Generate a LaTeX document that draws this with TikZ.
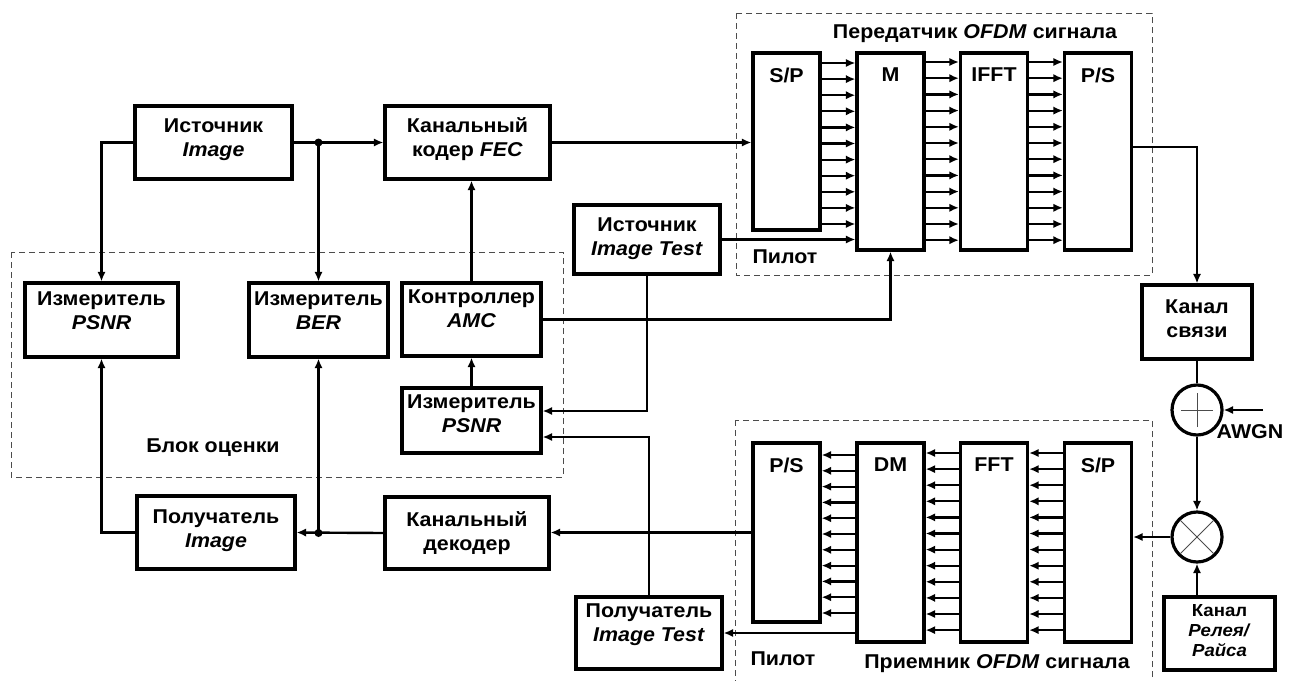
\documentclass[tikz,border=0pt]{standalone}
\usepackage{fontspec}
\setmainfont{Liberation Sans}[FakeStretch=1.07]
\usetikzlibrary{arrows.meta,positioning}
\newcommand{\lowpad}[1]{\rule[-#1]{0pt}{#1}}

\begin{document}
\begin{tikzpicture}[x=0.5pt, y=-0.5pt, >={Latex[length=4.8pt,width=4.2pt]},
    blok/.style={draw, line width=1.6pt, align=center, inner sep=0pt, font=\bfseries\fontsize{10}{12}\selectfont},
    ofdm/.style={draw, line width=1.6pt, inner sep=0pt, minimum width=33.5pt},
    ofdmlbl/.style={label={[inner sep=0pt, anchor=north, yshift=-8pt, font=\bfseries\fontsize{10}{12}\selectfont]north:#1}},
    frame/.style={line width=0.5pt, black!70, dash pattern=on 3pt off 2pt},
    txt/.style={font=\bfseries\fontsize{10}{12}\selectfont, inner sep=0pt, anchor=base},
    sig/.style={line width=1.2pt},
    bus/.style={line width=1.1pt, ->},
    summ/.style={draw, circle, line width=1.6pt, minimum size=25pt, inner sep=0pt},
    cross/.style={line width=0.5pt, black!70},
  ]
  \useasboundingbox (0,0) rectangle (1299,680);

  %% Frames
  \draw[frame] (11,252) rectangle (563,477);
  \draw[frame] (736,13) rectangle (1152,275);
  \draw[frame] (735,420) rectangle (1152,700);

  %% Blocks
  \node[blok, minimum width=78.5pt, minimum height=36.5pt] (src) at (213.5,142.5) {Источник\\\textit{Image}\lowpad{4.5pt}};
  \node[blok, minimum width=82.5pt, minimum height=36.5pt] (fec) at (467.5,142.5) {Канальный\\кодер \textit{FEC}\lowpad{5pt}};
  \node[blok, minimum width=76.5pt, minimum height=37pt] (psnra) at (101.5,320) {Измеритель\\\textit{PSNR}\lowpad{9.5pt}};
  \node[blok, minimum width=69.5pt, minimum height=37pt] (ber) at (318.5,320) {Измеритель\\\textit{BER}\lowpad{9.5pt}};
  \node[blok, minimum width=69.5pt, minimum height=36.5pt] (amc) at (471.5,319.5) {Контроллер\\\textit{AMC}\lowpad{10.5pt}};
  \node[blok, minimum width=69.5pt, minimum height=32.5pt] (psnrb) at (471.5,420.5) {Измеритель\\\textit{PSNR}\lowpad{7pt}};
  \node[blok, minimum width=73pt, minimum height=34.5pt] (srct) at (647,239.5) {Источник\\\textit{Image Test}\lowpad{3pt}};
  \node[blok, minimum width=73pt, minimum height=36pt] (rcvt) at (649,633) {Получатель\\\textit{Image Test}\lowpad{10.5pt}};
  \node[blok, minimum width=79pt, minimum height=36.5pt] (rcv) at (216,532.5) {Получатель\\\textit{Image}\lowpad{4pt}};
  \node[blok, minimum width=82pt, minimum height=36pt] (dec) at (467,533) {Канальный\\декодер};
  \node[blok, minimum width=55pt, minimum height=37pt] (chan) at (1197,322) {Канал\\связи\lowpad{3.5pt}};
  \node[blok, font=\bfseries\fontsize{8.7}{10}\selectfont, minimum width=55.5pt, minimum height=36.5pt] (ray) at (1219.5,633.5) {Канал\\\textit{Релея/}\\\textit{Райса}\lowpad{3pt}};

  %% OFDM transmitter
  \node[ofdm, minimum height=88.5pt, ofdmlbl=S/P] (tsp) at (786.5,141.5) {};
  \node[ofdm, minimum height=98.5pt, ofdmlbl=M] (tm) at (890.5,151.5) {};
  \node at (tm) [xshift=51.75pt, ofdm, minimum height=98.5pt, ofdmlbl=IFFT] (tifft) {};
  \node at (tifft) [xshift=52pt, ofdm, minimum height=98.5pt, ofdmlbl=P/S] (tps) {};

  %% OFDM receiver
  \node[ofdm, minimum height=89.5pt, ofdmlbl=P/S] (rps) at (786.5,532.5) {};
  \node[ofdm, minimum height=99.5pt, ofdmlbl=DM] (rdm) at (890.5,542.5) {};
  \node at (rdm) [xshift=51.75pt, ofdm, minimum height=99.5pt, ofdmlbl=FFT] (rfft) {};
  \node at (rfft) [xshift=52pt, ofdm, minimum height=99.5pt, ofdmlbl=S/P] (rsp) {};

  %% Channel
  \node[summ] (add) at (1197,410) {};
  \node[summ] (mul) at (1197,537) {};
  \draw[cross] ([xshift=-8pt]add.center) -- ([xshift=8pt]add.center);
  \draw[cross] ([yshift=-8.5pt]add.center) -- ([yshift=8.5pt]add.center);
  \draw[cross, shorten <=1.5pt, shorten >=1.5pt] (mul.45) -- (mul.225);
  \draw[cross, shorten <=1.5pt, shorten >=1.5pt] (mul.135) -- (mul.315);
  \coordinate (awgn) at (1263,410);

  %% Labels
  \node[txt] (txtitle) at (975,38) {Передатчик \textit{OFDM} сигнала};
  \node[txt] (rxtitle) at (997,668) {Приемник \textit{OFDM} сигнала};
  \node[txt] (txpilot) at (785,263) {Пилот};
  \node[txt] (rxpilot) at (783,665) {Пилот};
  \node[txt] (estlbl) at (213,452) {Блок оценки};
  \node[txt] (awgnlbl) at (1250,438) {AWGN};

  %% Arrows
  \draw[sig, ->] (src.east) -- (fec.west);
  \fill (src.east -| ber.north) circle (2pt);
  \draw[sig, ->] (src.east -| ber.north) -- (ber.north);
  \draw[sig, ->] (src.west) -| (psnra.north);
  \draw[sig, ->] (fec.east) -- (fec.east -| tsp.west);
  \draw[sig, ->] (amc.north) -- (amc.north |- fec.south);
  \draw[sig, ->] (psnrb.north) -- (amc.south);
  \draw[sig, ->] (amc.east) -| (tm.south);
  \draw[sig, ->] (srct.east) -- (srct.east -| tm.west);
  \draw[sig, ->] (srct.south) |- ([yshift=4.75pt]psnrb.east);
  \draw[sig, ->] (rcvt.north) |- ([yshift=-8.25pt]psnrb.east);
  \draw[sig, ->] ([yshift=2.25pt]tps.east) -| (chan.north);
  \draw[sig] (chan.south) -- (add.north);
  \draw[sig, ->] (awgn) -- (add.east);
  \draw[sig, ->] (add.south) -- (mul.north);
  \draw[sig, ->] (mul |- ray.north) -- (mul.south);
  \draw[sig, ->] (mul.west) -- (mul.west -| rsp.east);
  \draw[sig, ->] (rps.west) -- (rps.west -| dec.east);
  \draw[sig, ->] (dec.west) -- (rcv.east);
  \fill (dec.west -| ber.south) circle (2pt);
  \draw[sig, ->] (dec.west -| ber.south) -- (ber.south);
  \draw[sig, ->] (rcv.west) -| (psnra.south);
  \draw[sig, ->] (rdm.west |- rcvt.east) -- (rcvt.east);

  %% Parallel buses
  \foreach \i in {0,...,10}
    \draw[bus] (tsp.east |- 0,63+16.1*\i) -- (tm.west |- 0,63+16.1*\i);
  \foreach \i in {0,...,11} {
    \draw[bus] (tm.east |- 0,62+16.2*\i) -- (tifft.west |- 0,62+16.2*\i);
    \draw[bus] (tifft.east |- 0,62+16.2*\i) -- (tps.west |- 0,62+16.2*\i);
  }
  \foreach \i in {0,...,10}
    \draw[bus] (rdm.west |- 0,455+15.8*\i) -- (rps.east |- 0,455+15.8*\i);
  \foreach \i in {0,...,11} {
    \draw[bus] (rfft.west |- 0,453+16.1*\i) -- (rdm.east |- 0,453+16.1*\i);
    \draw[bus] (rsp.west |- 0,453+16.1*\i) -- (rfft.east |- 0,453+16.1*\i);
  }
\end{tikzpicture}
\end{document}
